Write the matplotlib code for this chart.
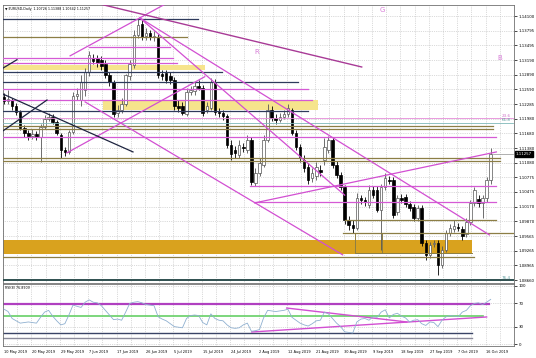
import matplotlib
matplotlib.use('Agg')
import matplotlib.pyplot as plt
from matplotlib.transforms import blended_transform_factory

# EURUSD daily bars, bar 0 = 10 May 2019
opens = [1.1243, 1.1235, 1.1237, 1.1225, 1.1212, 1.1179, 1.1169, 1.1163, 1.1167, 1.1161,
         1.1181, 1.1198, 1.1202, 1.1192, 1.1165, 1.1134, 1.1130, 1.1171, 1.1245, 1.1237,
         1.1258, 1.1295, 1.1324, 1.1324, 1.1319, 1.1311, 1.1289, 1.1274, 1.1210, 1.1216,
         1.1229, 1.1287, 1.1309, 1.1371, 1.1394, 1.1369, 1.1375, 1.1367, 1.1365, 1.1291,
         1.1293, 1.1287, 1.1278, 1.1225, 1.1225, 1.1208, 1.1253, 1.1256, 1.1266, 1.1262,
         1.1216, 1.1221, 1.1274, 1.1212, 1.1210, 1.1204, 1.1144, 1.1134, 1.1124, 1.1140,
         1.1134, 1.1155, 1.1066, 1.1087, 1.1103, 1.1155, 1.1216, 1.1200, 1.1196, 1.1202,
         1.1208, 1.1216, 1.1169, 1.1140, 1.1113, 1.1099, 1.1076, 1.1080, 1.1093, 1.1113,
         1.1134, 1.1155, 1.1103, 1.1083, 1.1058, 1.0990, 1.0980, 1.0973, 1.1035, 1.1031,
         1.1021, 1.1052, 1.1052, 1.1010, 1.1058, 1.1072, 1.1072, 1.1006, 1.1035, 1.1037,
         1.1023, 1.1017, 1.0994, 1.1015, 1.0942, 1.0918, 1.0940, 1.0942, 1.0897, 1.0928,
         1.0963, 1.0971, 1.0975, 1.0971, 1.0961, 1.0986, 1.1025, 1.1033, 1.1025, 1.1035,
         1.1073]
highs = [1.1251, 1.1258, 1.1241, 1.1231, 1.1216, 1.1186, 1.1175, 1.1177, 1.1173, 1.1188,
         1.1206, 1.1210, 1.1208, 1.1196, 1.1169, 1.1140, 1.1175, 1.1253, 1.1262, 1.1289,
         1.1303, 1.1338, 1.1332, 1.1330, 1.1328, 1.1319, 1.1295, 1.1278, 1.1227, 1.1241,
         1.1291, 1.1319, 1.1381, 1.1406, 1.1402, 1.1385, 1.1381, 1.1379, 1.1373, 1.1299,
         1.1299, 1.1295, 1.1284, 1.1237, 1.1233, 1.1262, 1.1266, 1.1274, 1.1278, 1.1268,
         1.1233, 1.1282, 1.1280, 1.1221, 1.1216, 1.1208, 1.1155, 1.1142, 1.1155, 1.1148,
         1.1165, 1.1161, 1.1097, 1.1118, 1.1165, 1.1229, 1.1225, 1.1208, 1.1210, 1.1216,
         1.1229, 1.1221, 1.1175, 1.1146, 1.1124, 1.1107, 1.1097, 1.1109, 1.1103, 1.1159,
         1.1163, 1.1161, 1.1111, 1.1089, 1.1062, 1.0998, 1.0990, 1.1045, 1.1041, 1.1037,
         1.1062, 1.1060, 1.1060, 1.1064, 1.1087, 1.1080, 1.1078, 1.1041, 1.1043, 1.1043,
         1.1029, 1.1023, 1.1021, 1.1021, 1.0949, 1.0945, 1.0949, 1.0949, 1.0936, 1.0969,
         1.0982, 1.0990, 1.0984, 1.0977, 1.0994, 1.1031, 1.1058, 1.1041, 1.1041, 1.1078,
         1.1139]
lows = [1.1229, 1.1229, 1.1216, 1.1206, 1.1175, 1.1161, 1.1155, 1.1157, 1.1155, 1.1109,
        1.1177, 1.1194, 1.1188, 1.1165, 1.1118, 1.1122, 1.1126, 1.1167, 1.1237, 1.1225,
        1.1245, 1.1286, 1.1311, 1.1305, 1.1299, 1.1282, 1.1266, 1.1202, 1.1202, 1.1210,
        1.1225, 1.1278, 1.1303, 1.1365, 1.1361, 1.1361, 1.1361, 1.1359, 1.1282, 1.1278,
        1.1272, 1.1270, 1.1216, 1.1212, 1.1206, 1.1204, 1.1247, 1.1247, 1.1258, 1.1204,
        1.1210, 1.1216, 1.1206, 1.1202, 1.1196, 1.1138, 1.1113, 1.1118, 1.1118, 1.1130,
        1.1128, 1.1062, 1.1060, 1.1080, 1.1099, 1.1151, 1.1194, 1.1188, 1.1192, 1.1198,
        1.1202, 1.1165, 1.1134, 1.1109, 1.1089, 1.1064, 1.1068, 1.1072, 1.1080, 1.1103,
        1.1128, 1.1097, 1.1076, 1.1052, 1.0982, 1.0969, 1.0963, 1.0969, 1.1023, 1.1019,
        1.1015, 1.1035, 1.1006, 1.0928, 1.1052, 1.1064, 1.0994, 1.1000, 1.1025, 1.1017,
        1.1008, 1.0988, 1.0988, 1.0936, 1.0907, 1.0912, 1.0934, 1.0877, 1.0891, 1.0924,
        1.0957, 1.0965, 1.0967, 1.0949, 1.0955, 1.0980, 1.1019, 1.1017, 1.0994, 1.1027,
        1.1064]
closes = [1.1235, 1.1239, 1.1225, 1.1212, 1.1179, 1.1169, 1.1163, 1.1167, 1.1161, 1.1181,
          1.1198, 1.1202, 1.1192, 1.1169, 1.1134, 1.1130, 1.1171, 1.1245, 1.1249, 1.1274,
          1.1295, 1.1330, 1.1317, 1.1313, 1.1307, 1.1289, 1.1274, 1.1208, 1.1216, 1.1229,
          1.1289, 1.1311, 1.1371, 1.1392, 1.1367, 1.1375, 1.1367, 1.1369, 1.1289, 1.1287,
          1.1278, 1.1278, 1.1225, 1.1221, 1.1210, 1.1253, 1.1258, 1.1266, 1.1262, 1.1210,
          1.1225, 1.1274, 1.1212, 1.1210, 1.1204, 1.1144, 1.1126, 1.1128, 1.1144, 1.1138,
          1.1155, 1.1068, 1.1087, 1.1107, 1.1155, 1.1216, 1.1200, 1.1196, 1.1202, 1.1208,
          1.1221, 1.1169, 1.1140, 1.1120, 1.1097, 1.1072, 1.1087, 1.1099, 1.1089, 1.1140,
          1.1155, 1.1103, 1.1083, 1.1058, 1.0990, 1.0980, 1.0973, 1.1035, 1.1031, 1.1027,
          1.1052, 1.1041, 1.1010, 1.1058, 1.1076, 1.1070, 1.1000, 1.1035, 1.1031, 1.1023,
          1.1015, 1.0994, 1.1015, 1.0942, 1.0918, 1.0938, 1.0942, 1.0897, 1.0928, 1.0963,
          1.0973, 1.0977, 1.0973, 1.0957, 1.0986, 1.1025, 1.1052, 1.1025, 1.1035, 1.1072,
          1.11257]

rsi = [60, 56, 44, 40, 36, 37, 38, 37, 36, 46,
       55, 58, 48, 40, 33, 35, 50, 67, 65, 63,
       72, 76, 72, 71, 66, 58, 50, 42, 43, 41,
       55, 70, 72, 73, 71, 68, 67, 66, 47, 43,
       40, 35, 30, 29, 28, 44, 49, 50, 49, 37,
       33, 52, 44, 41, 40, 33, 28, 27, 28, 33,
       36, 22, 23, 25, 45, 58, 57, 56, 57, 58,
       60, 46, 41, 36, 33, 31, 35, 40, 41, 55,
       52, 44, 36, 30, 21, 20, 19, 38, 43, 44,
       41, 47, 46, 55, 59, 45, 51, 53, 48, 45,
       38, 41, 42, 35, 32, 38, 37, 30, 41, 47,
       49, 48, 47, 55, 58, 66, 70, 71, 68, 72,
       76.89]

dateLabels = ['10 May 2019', '20 May 2019', '29 May 2019', '7 Jun 2019', '17 Jun 2019',
              '26 Jun 2019', '5 Jul 2019', '15 Jul 2019', '24 Jul 2019', '2 Aug 2019',
              '12 Aug 2019', '21 Aug 2019', '30 Aug 2019', '9 Sep 2019', '18 Sep 2019',
              '27 Sep 2019', '7 Oct 2019', '16 Oct 2019']
priceTicks = [1.14100, 1.13795, 1.13495, 1.13190, 1.12890, 1.12590, 1.12285, 1.11980,
              1.11680, 1.11380, 1.11080, 1.10775, 1.10475, 1.10170, 1.09870, 1.09565,
              1.09265, 1.08965, 1.08660]
rsiTicks = [0, 30, 70, 100]

# horizontal levels: (price, first bar, last bar)
navyLevels = [(1.1404, -1, 47.8), (1.1295, -1, 53.7), (1.1274, -1, 72.4), (1.1214, -1, 75)]
pinkLevels = [(1.1346, 21, 41), (1.1323, -1, 41.6), (1.1313, -1, 42.6), (1.1260, -1, 75),
              (1.1237, -1, 76), (1.1161, -1, 121.2), (1.1060, 60.6, 121.4), (1.1027, 61.8, 121.4)]
oliveLevels = [(1.1367, -1, 45), (1.1183, -1, 120.5), (1.1177, -1, 120.5), (1.1118, -1, 122.3),
               (1.1111, -1, 122.3), (1.0990, 84, 121.4), (1.0963, 83.5, 126), (1.0913, -1, 116)]
yellowBands = [(1.1299, 1.1309, -1, 49.5), (1.1216, 1.1237, 24.4, 77.3)]
goldBand = (1.0920, 1.0949, -1, 115.3)
fibLevels = [('23.6', 1.1200), ('61.8', 1.1190), ('76.4', 1.0866)]

# trend lines: (bar0, price0, bar1, price1)
channelLines = [(33.5, 1.1406, 119.7, 1.0959), (33.5, 1.1406, 84.0, 1.1041),
                (16.3, 1.1328, 41.6, 1.1443), (20.0, 1.1233, 83.5, 1.0918),
                (15.5, 1.1128, 49.5, 1.1285), (61.8, 1.1025, 121.4, 1.1130)]
topLine = (19.5, 1.1443, 88.2, 1.1305)
darkLines = [(-1, 1.1252, 31.8, 1.1130), (-1, 1.1169, 10.6, 1.1237), (-1, 1.1299, 3.2, 1.1320)]

rsiLevels = [(69, 119.5, '#B040C0', 1.6), (48.3, 118, '#66D066', 1.2),
             (19, 115.3, '#3A4466', 1.0), (10.3, 115.3, '#8A8A9A', 1.0)]
rsiLines = [(69.7, 62, 99.3, 38), (61.1, 20.7, 119, 46.6)]


def drawCandles(ax):
    for i in range(len(closes)):
        up = closes[i] >= opens[i]
        edge = '#555555' if up else 'black'
        ax.vlines(i, lows[i], highs[i], color=edge, lw=0.6, zorder=3)
        bottom = min(opens[i], closes[i])
        height = max(abs(closes[i] - opens[i]), 0.00005)
        ax.bar(i, height, bottom=bottom, width=0.62, color='white' if up else 'black',
               edgecolor=edge, lw=0.5, zorder=3)


def main():
    fig = plt.figure(figsize=(5.36, 3.58), dpi=100)
    ax = fig.add_axes([3 / 536, 1 - 283 / 358, 511 / 536, 278 / 358])
    axr = fig.add_axes([3 / 536, 1 - 346 / 358, 511 / 536, 62 / 358])

    xmin, xmax = -0.25, 125.6
    gridX = [-0.25 + 3.5 * k for k in range(37)]
    for a in (ax, axr):
        a.set_xlim(xmin, xmax)
        a.set_xticks(gridX)
        a.tick_params(axis='x', length=0, labelbottom=False)
        a.grid(True, ls=':', color='#B8B8B8', lw=0.5)
        a.set_axisbelow(True)
        a.yaxis.tick_right()
        a.tick_params(axis='y', labelsize=2.8, length=2, width=0.5, pad=1.5)
        for s in a.spines.values():
            s.set_color('#707070')
            s.set_linewidth(0.6)

    ax.set_ylim(1.0860, 1.14327)
    ax.set_yticks(priceTicks)
    ax.set_yticklabels(['%.5f' % p for p in priceTicks])

    # bands and levels
    for lo, hi, x0, x1 in yellowBands:
        ax.fill_between([x0, x1], lo, hi, color='#F6E48C', lw=0, zorder=1)
    lo, hi, x0, x1 = goldBand
    ax.fill_between([x0, x1], lo, hi, color='#D9A21E', lw=0, zorder=1)
    for p, x0, x1 in navyLevels:
        ax.plot([x0, x1], [p, p], color='#2E3A5C', lw=0.9, zorder=4)
    for p, x0, x1 in pinkLevels:
        ax.plot([x0, x1], [p, p], color='#D55AD5', lw=0.9, zorder=4)
    for p, x0, x1 in oliveLevels:
        ax.plot([x0, x1], [p, p], color='#8C7E45', lw=0.9, zorder=4)
    ax.plot([xmin, xmax], [1.1200, 1.1200], color='#E58AD8', lw=0.6, zorder=4)
    ax.plot([xmin, xmax], [1.1190, 1.1190], color='#7FB8B8', lw=0.6, zorder=4)
    ax.plot([xmin, xmax], [1.0866, 1.0866], color='#2F5050', lw=1.4, zorder=4)
    # box around the late-August base
    ax.plot([86.5, 86.5, 115.3], [1.0963, 1.0922, 1.0922], color='#8C7E45', lw=0.7, zorder=4)
    ax.plot([93.3, 93.3], [1.0963, 1.0922], color='#8C7E45', lw=0.7, zorder=4)

    for x0, p0, x1, p1 in channelLines:
        ax.plot([x0, x1], [p0, p1], color='#D24FD2', lw=0.9, zorder=4)
    x0, p0, x1, p1 = topLine
    ax.plot([x0, x1], [p0, p1], color='#A83A96', lw=1.0, zorder=4)
    for x0, p0, x1, p1 in darkLines:
        ax.plot([x0, x1], [p0, p1], color='#1E2440', lw=0.9, zorder=4)

    drawCandles(ax)

    # current price line and box
    last = closes[-1]
    ax.plot([len(closes) - 0.5, xmax], [last, last], color='#909090', lw=0.5, zorder=4)
    trans = blended_transform_factory(ax.transAxes, ax.transData)
    ax.text(1.004, last, '%.5f' % last, transform=trans, fontsize=2.8, color='white',
            va='center', ha='left', bbox=dict(facecolor='black', edgecolor='black', pad=0.6),
            zorder=6, clip_on=False)

    # fib captions and object labels
    for name, p in fibLevels:
        col = '#D070C8' if name == '23.6' else '#5F9EA0'
        ax.text(124.9, p + 0.00008, name, fontsize=3, color=col, ha='right', va='bottom', zorder=5)
    ax.text(93.3, 1.1423, 'G', fontsize=5, color='#D77AD7', ha='center', va='center')
    ax.text(62.3, 1.1336, 'R', fontsize=5, color='#D77AD7', ha='center', va='center')
    ax.text(122.2, 1.1324, 'B', fontsize=5, color='#D77AD7', ha='center', va='center')
    ax.text(0.004, 0.993, '\u25bc EURUSD,Daily  1.10726 1.11388 1.10642 1.11257',
            transform=ax.transAxes, fontsize=2.3, ha='left', va='top')

    # RSI window
    axr.set_ylim(-3.4, 103.4)
    axr.set_yticks(rsiTicks)
    axr.set_yticklabels([str(t) for t in rsiTicks])
    for lvl, x1, col, lw in rsiLevels:
        axr.plot([xmin, x1], [lvl, lvl], color=col, lw=lw, zorder=2)
    for x0, v0, x1, v1 in rsiLines:
        axr.plot([x0, x1], [v0, v1], color='#D24FD2', lw=1.0, zorder=3)
    axr.plot(range(len(rsi)), rsi, color='#8FB0D0', lw=0.6, zorder=4)
    axr.text(0.004, 0.97, 'RSI(8) 76.8909', transform=axr.transAxes, fontsize=2.3,
             ha='left', va='top')

    transr = blended_transform_factory(axr.transData, axr.transAxes)
    for k, lab in enumerate(dateLabels):
        axr.text(gridX[2 * k] + 0.2, -0.06, lab, transform=transr, fontsize=2.5,
                 ha='left', va='top')

    fig.savefig('out.png', dpi=100)


if __name__ == '__main__':
    main()
